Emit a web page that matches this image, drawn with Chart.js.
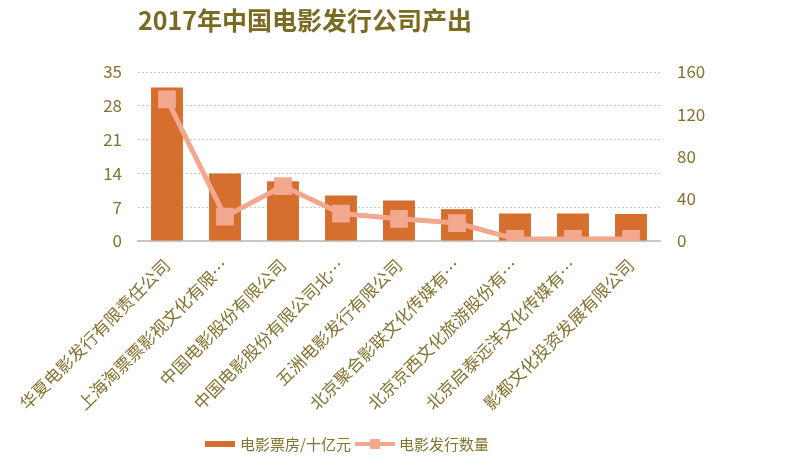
<!DOCTYPE html>
<html>
<head>
<meta charset="utf-8">
<script src="https://cdn.jsdelivr.net/npm/chart.js@4"></script>
<style>
  html, body { margin: 0; padding: 0; background: #fff; }
  #wrap { width: 800px; height: 476px; position: relative; }
</style>
</head>
<body>
<div id="wrap"><canvas id="c"></canvas></div>
<script>
// ===== DADOS =====
const companies = [
    '华夏电影发行有限责任公司',
    '上海淘票票影视文化有限…',
    '中国电影股份有限公司',
    '中国电影股份有限公司北…',
    '五洲电影发行有限公司',
    '北京聚合影联文化传媒有…',
    '北京京西文化旅游股份有…',
    '北京启泰远洋文化传媒有…',
    '影都文化投资发展有限公司'
];
const boxOffice = [31.8, 14.0, 12.4, 9.4, 8.4, 6.6, 5.7, 5.7, 5.6];
const filmCount = [134, 23, 52, 26, 21, 17, 2, 2, 2];
const leftTicks = [0, 7, 14, 21, 28, 35];
const rightTicks = [0, 40, 80, 120, 160];

const titleText = '2017年中国电影发行公司产出';
const barLabel = '电影票房/十亿元';
const lineLabel = '电影发行数量';

const FONT = "'Noto Sans CJK SC', 'Noto Sans', sans-serif";
const TEXT = '#84722f';
const BAR = '#d66e2e';
const LINE = '#f2a88e';

// ===== TITULO + LEGENDA =====
const extras = {
    id: 'extras',
    afterDraw(chart) {
        const ctx = chart.ctx;
        const area = chart.chartArea;
        ctx.save();
        ctx.fillStyle = '#7b6a22';
        ctx.font = 'bold 25px ' + FONT;
        ctx.textBaseline = 'middle';
        ctx.textAlign = 'left';
        ctx.fillText(titleText, area.left, 20);

        // legenda
        const y = 444;
        ctx.fillStyle = BAR;
        ctx.fillRect(205, y - 3, 30, 6);
        ctx.fillStyle = TEXT;
        ctx.font = '15px ' + FONT;
        ctx.fillText(barLabel, 240, y);

        ctx.strokeStyle = LINE;
        ctx.lineWidth = 4;
        ctx.beginPath();
        ctx.moveTo(355, y);
        ctx.lineTo(395, y);
        ctx.stroke();
        ctx.fillStyle = LINE;
        ctx.fillRect(370, y - 5, 10, 10);
        ctx.fillStyle = TEXT;
        ctx.fillText(lineLabel, 399, y);
        ctx.restore();
    }
};

Chart.defaults.font.family = FONT;
Chart.defaults.color = TEXT;

new Chart(document.getElementById('c'), {
    type: 'bar',
    data: {
        labels: companies,
        datasets: [
            {
                type: 'line',
                label: lineLabel,
                data: filmCount,
                yAxisID: 'y1',
                borderColor: LINE,
                backgroundColor: LINE,
                borderWidth: 5,
                pointStyle: 'rect',
                pointRadius: 9,
                pointHoverRadius: 9,
                tension: 0,
                order: 0
            },
            {
                label: barLabel,
                data: boxOffice,
                yAxisID: 'y',
                backgroundColor: BAR,
                categoryPercentage: 1,
                barPercentage: 0.55,
                order: 1
            }
        ]
    },
    options: {
        responsive: true,
        maintainAspectRatio: false,
        animation: false,
        layout: { padding: { top: 72, bottom: 0, left: 0, right: 0 } },
        plugins: {
            legend: { display: false },
            title: { display: false },
            tooltip: { enabled: false }
        },
        scales: {
            x: {
                grid: { display: false },
                border: { display: true, color: '#c8c8c8', width: 2 },
                ticks: {
                    font: { size: 17 },
                    color: TEXT,
                    minRotation: 45,
                    maxRotation: 45,
                    autoSkip: false,
                    padding: 6
                },
                afterFit(s) { s.height = 235; }
            },
            y: {
                position: 'left',
                min: 0,
                max: 35,
                afterBuildTicks(s) { s.ticks = leftTicks.map(v => ({ value: v })); },
                grid: { color: '#c8c8c8', lineWidth: 1, drawTicks: false },
                border: { display: false, dash: [2, 2] },
                ticks: { font: { size: 17 }, color: TEXT, padding: 16 },
                afterFit(s) { s.width = 138; }
            },
            y1: {
                position: 'right',
                min: 0,
                max: 160,
                afterBuildTicks(s) { s.ticks = rightTicks.map(v => ({ value: v })); },
                grid: { display: false, drawTicks: false },
                border: { display: false },
                ticks: { font: { size: 17 }, color: TEXT, padding: 17 },
                afterFit(s) { s.width = 140; }
            }
        }
    },
    plugins: [extras]
});
</script>
</body>
</html>
